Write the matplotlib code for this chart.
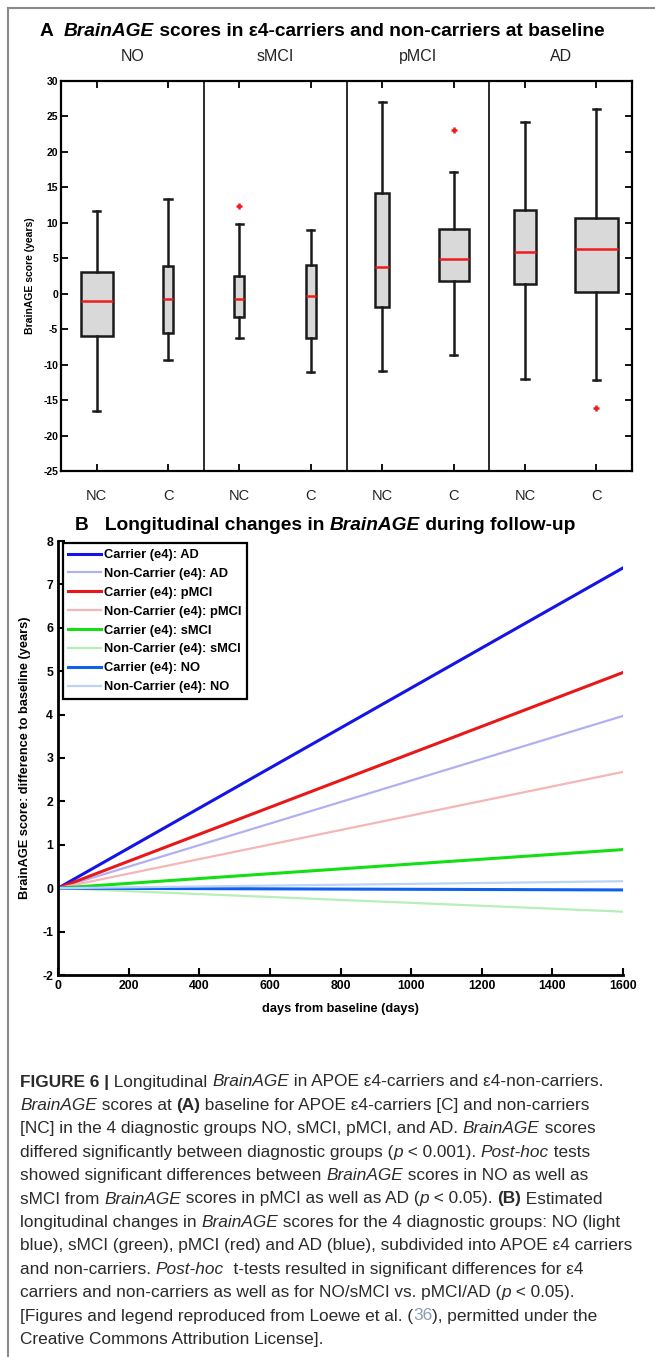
import matplotlib
matplotlib.use("Agg")
import matplotlib.pyplot as plt
from matplotlib.font_manager import FontProperties
from matplotlib.lines import Line2D

# ---------------- data: panel A (box plot summary values) ----------------
groups = ["NO", "sMCI", "pMCI", "AD"]
box_labels = ["NC", "C", "NC", "C", "NC", "C", "NC", "C"]
whisker_low = [-16.5, -9.4, -6.3, -11.0, -10.9, -8.7, -12.0, -12.1]
q1 = [-6.0, -5.6, -3.3, -6.2, -1.9, 1.8, 1.4, 0.2]
median = [-1.0, -0.7, -0.8, -0.3, 3.8, 4.9, 5.9, 6.3]
q3 = [3.0, 3.9, 2.5, 4.0, 14.2, 9.1, 11.8, 10.7]
whisker_high = [11.7, 13.3, 9.8, 9.0, 27.0, 17.2, 24.2, 26.0]
outliers = [[], [], [12.4], [], [], [23.1], [], [-16.1]]
box_widths = [0.45, 0.14, 0.14, 0.14, 0.2, 0.42, 0.32, 0.6]

# ---------------- data: panel B (estimated linear change) ----------------
days = [0, 1600]
series_names = ["Carrier (e4): AD", "Non-Carrier (e4): AD",
                "Carrier (e4): pMCI", "Non-Carrier (e4): pMCI",
                "Carrier (e4): sMCI", "Non-Carrier (e4): sMCI",
                "Carrier (e4): NO", "Non-Carrier (e4): NO"]
change_at_end = [7.38, 3.97, 4.97, 2.68, 0.89, -0.54, -0.04, 0.16]
series_colors = ["#1414e6", "#b0b0f2", "#e81818", "#f4b6b6",
                 "#14de14", "#b8eeb8", "#1060ee", "#bcd2f6"]
series_lw = [2.2, 1.6, 2.2, 1.6, 2.2, 1.6, 2.2, 1.6]

W_PX, H_PX = 655, 1357
SANS = ["Liberation Sans", "DejaVu Sans"]
plt.rcParams["font.family"] = SANS
plt.rcParams["axes.unicode_minus"] = False

fig = plt.figure(figsize=(W_PX / 100, H_PX / 100), dpi=100)


def fx(px):
    return px / W_PX


def fy(px):
    return 1 - px / H_PX


def rich_line(x_px, y_px, parts, size, base_color="#1a1a1a"):
    # draw one line made of differently styled pieces, side by side
    r = fig.canvas.get_renderer()
    for part in parts:
        s, weight, style = part[:3]
        color = part[3] if len(part) > 3 else base_color
        prop = FontProperties(family=SANS, size=size, weight=weight, style=style)
        w = (r.get_text_width_height_descent(s + "|", prop, ismath=False)[0]
             - r.get_text_width_height_descent("|", prop, ismath=False)[0])
        fig.text(fx(x_px), fy(y_px), s, fontproperties=prop, color=color, va="center")
        x_px += w


# frame around figure
fig.add_artist(Line2D([fx(8), fx(8)], [fy(8), 0], color="#8a8a8a", lw=1.5))
fig.add_artist(Line2D([fx(8), 1], [fy(8), fy(8)], color="#8a8a8a", lw=1.5))

# ---------------- panel A ----------------
axA = fig.add_axes([fx(61), fy(471), fx(632) - fx(61), fy(81) - fy(471)])
stats = []
for i in range(len(box_labels)):
    stats.append(dict(med=median[i], q1=q1[i], q3=q3[i], whislo=whisker_low[i],
                      whishi=whisker_high[i], fliers=outliers[i]))
positions = list(range(1, len(box_labels) + 1))
axA.bxp(stats, positions=positions, widths=box_widths, patch_artist=True,
        boxprops=dict(facecolor="#d9d9d9", edgecolor="#1a1a1a", linewidth=1.8),
        medianprops=dict(color="#ee1c1c", linewidth=1.8),
        whiskerprops=dict(color="#1a1a1a", linewidth=1.8),
        capprops=dict(color="#1a1a1a", linewidth=1.8),
        capwidths=0.1,
        flierprops=dict(marker="+", markeredgecolor="#ee1c1c", markersize=5, markeredgewidth=1.8))
for sep in [2.5, 4.5, 6.5]:
    axA.axvline(sep, color="#1a1a1a", lw=1.3)
axA.set_xlim(0.5, 8.5)
axA.set_ylim(-25, 30)
axA.set_yticks(range(-25, 31, 5))
axA.set_xticks(positions)
axA.set_xticklabels(box_labels, fontsize=10.5, color="#222222")
axA.tick_params(axis="x", direction="in", length=5, width=1.3, top=True, pad=13)
axA.tick_params(axis="y", direction="in", length=5, width=1.3, right=True, pad=2)
for lab in axA.get_yticklabels():
    lab.set_fontweight("bold")
    lab.set_fontsize(7.5)
for sp in axA.spines.values():
    sp.set_linewidth(1.6)
for g, name in enumerate(groups):
    axA.text(1.5 + 2 * g, 1.062, name, transform=axA.get_xaxis_transform(),
             ha="center", va="center", fontsize=11.5, color="#222222")
axA.set_ylabel("BrainAGE score (years)", fontsize=7.5, fontweight="bold", labelpad=6)

# ---------------- panel B ----------------
axB = fig.add_axes([fx(58), fy(975), fx(623) - fx(58), fy(541) - fy(975)])
for i in range(len(series_names)):
    axB.plot(days, [0, change_at_end[i]], color=series_colors[i], lw=series_lw[i],
             label=series_names[i])
axB.set_xlim(0, 1600)
axB.set_ylim(-2, 8)
axB.set_xticks(range(0, 1601, 200))
axB.set_yticks(range(-2, 9))
axB.spines["top"].set_visible(False)
axB.spines["right"].set_visible(False)
for sp in ["left", "bottom"]:
    axB.spines[sp].set_linewidth(2)
axB.tick_params(direction="in", length=5, width=1.5, labelsize=8.8)
for lab in axB.get_xticklabels() + axB.get_yticklabels():
    lab.set_fontweight("bold")
axB.set_xlabel("days from baseline (days)", fontsize=9.2, fontweight="bold", labelpad=8)
axB.set_ylabel("BrainAGE score: difference to baseline (years)", fontsize=9.2,
               fontweight="bold", labelpad=8)
leg = axB.legend(loc="upper left", bbox_to_anchor=(0.008, 0.995), borderaxespad=0,
                 fancybox=False, framealpha=1, edgecolor="black", handlelength=2.5,
                 labelspacing=0.53, handletextpad=0.25, borderpad=0.45,
                 prop=dict(weight="bold", size=9.3))
leg.get_frame().set_linewidth(1.6)

# ---------------- titles ----------------
rich_line(40, 32, [("A  ", "bold", "normal"), ("BrainAGE", "bold", "italic"),
                   (" scores in \u03b54-carriers and non-carriers at baseline", "bold", "normal")],
          13.8, base_color="black")
rich_line(75, 525, [("B   Longitudinal changes in ", "bold", "normal"),
                    ("BrainAGE", "bold", "italic"), (" during follow-up", "bold", "normal")],
          13.8, base_color="black")

# ---------------- caption ----------------
N, B, I = "normal", "bold", "italic"
caption = [
    [("FIGURE 6 |", B, N), (" Longitudinal ", N, N), ("BrainAGE", N, I),
     (" in APOE \u03b54-carriers and \u03b54-non-carriers.", N, N)],
    [("BrainAGE", N, I), (" scores at ", N, N), ("(A)", B, N),
     (" baseline for APOE \u03b54-carriers [C] and non-carriers", N, N)],
    [("[NC] in the 4 diagnostic groups NO, sMCI, pMCI, and AD. ", N, N), ("BrainAGE", N, I),
     (" scores", N, N)],
    [("differed significantly between diagnostic groups (", N, N), ("p", N, I),
     (" < 0.001). ", N, N), ("Post-hoc", N, I), (" tests", N, N)],
    [("showed significant differences between ", N, N), ("BrainAGE", N, I),
     (" scores in NO as well as", N, N)],
    [("sMCI from ", N, N), ("BrainAGE", N, I), (" scores in pMCI as well as AD (", N, N),
     ("p", N, I), (" < 0.05). ", N, N), ("(B)", B, N), (" Estimated", N, N)],
    [("longitudinal changes in ", N, N), ("BrainAGE", N, I),
     (" scores for the 4 diagnostic groups: NO (light", N, N)],
    [("blue), sMCI (green), pMCI (red) and AD (blue), subdivided into APOE \u03b54 carriers", N, N)],
    [("and non-carriers. ", N, N), ("Post-hoc", N, I),
     ("  t-tests resulted in significant differences for \u03b54", N, N)],
    [("carriers and non-carriers as well as for NO/sMCI vs. pMCI/AD (", N, N), ("p", N, I),
     (" < 0.05).", N, N)],
    [("[Figures and legend reproduced from Loewe et al. (", N, N), ("36", N, N, "#8a9ab8"),
     ("), permitted under the", N, N)],
    [("Creative Commons Attribution License].", N, N)],
]
for k, parts in enumerate(caption):
    rich_line(20, 1082 + k * 23.4, parts, 12.4, base_color="#2a2a2a")

fig.savefig("out.png", dpi=100)
